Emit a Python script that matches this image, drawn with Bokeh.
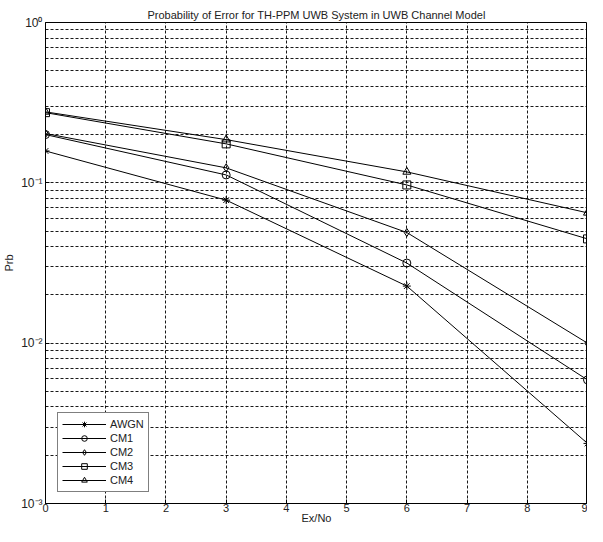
from bokeh.plotting import figure
from bokeh.models import Legend, LegendItem, CustomJSTickFormatter, FixedTicker, Range1d
from bokeh.embed import file_html
from bokeh.resources import INLINE

ex_no = [0, 3, 6, 9]
awgn = [0.158, 0.078, 0.0227, 0.00237]
cm1 = [0.200, 0.112, 0.0316, 0.0059]
cm2 = [0.203, 0.124, 0.049, 0.0100]
cm3 = [0.274, 0.175, 0.097, 0.0447]
cm4 = [0.277, 0.186, 0.117, 0.065]

series = [("AWGN", awgn, "asterisk"), ("CM1", cm1, "circle"), ("CM2", cm2, "diamond"),
          ("CM3", cm3, "square"), ("CM4", cm4, "triangle")]

FONT = "Liberation Sans"

p = figure(width=587, height=526, output_backend="svg", toolbar_location=None,
           y_axis_type="log", x_range=Range1d(0, 9), y_range=Range1d(1e-3, 1),
           title="Probability of Error for TH-PPM UWB System in UWB Channel Model",
           min_border_left=37, min_border_right=0, min_border_top=22, min_border_bottom=18)

p.title.align = "center"
p.title.text_font = FONT
p.title.text_font_size = "11px"
p.title.text_font_style = "normal"
p.title.text_color = "#222222"
p.title.standoff = 4

p.outline_line_color = "black"
p.outline_line_width = 1
p.background_fill_color = "white"
p.border_fill_color = "white"

p.xaxis.ticker = FixedTicker(ticks=list(range(10)))
p.yaxis.ticker = FixedTicker(ticks=[1e-3, 1e-2, 1e-1, 1],
                             minor_ticks=[m * 10.0 ** e for e in (-3, -2, -1) for m in range(2, 10)])
p.yaxis.formatter = CustomJSTickFormatter(code="""
const e = Math.round(Math.log10(tick));
const sup = {'-':'\u207b','0':'\u2070','1':'\u00b9','2':'\u00b2','3':'\u00b3'};
return '10' + String(e).split('').map(c => sup[c]).join('');
""")

for ax in (p.xaxis[0], p.yaxis[0]):
    ax.major_tick_in = 4
    ax.major_tick_out = 0
    ax.minor_tick_in = 0
    ax.minor_tick_out = 0
    ax.axis_line_color = "black"
    ax.major_tick_line_color = "black"
    ax.major_label_text_font = FONT
    ax.major_label_text_font_size = "11px"
    ax.major_label_text_color = "#222222"
    ax.axis_label_text_font = FONT
    ax.axis_label_text_font_size = "11px"
    ax.axis_label_text_font_style = "normal"
    ax.axis_label_text_color = "#222222"

p.yaxis.major_label_text_font_size = "12px"
p.xaxis.axis_label = "Ex/No"
p.yaxis.axis_label = "Prb"
p.xaxis.major_label_standoff = 0
p.xaxis.axis_label_standoff = -3
p.yaxis.major_label_standoff = 3
p.yaxis.axis_label_standoff = 3

for g in (p.xgrid[0], p.ygrid[0]):
    g.grid_line_color = "black"
    g.grid_line_dash = "3 2"
    g.grid_line_width = 1
    g.grid_line_alpha = 0.9
p.ygrid.minor_grid_line_color = "black"
p.ygrid.minor_grid_line_dash = "3 2"
p.ygrid.minor_grid_line_alpha = 0.9

items = []
for name, vals, marker in series:
    ln = p.line(ex_no, vals, line_color="black", line_width=1)
    sc = p.scatter(ex_no, vals, marker=marker, size=8, fill_color=None,
                   line_color="black", line_width=1)
    items.append(LegendItem(label=name, renderers=[ln, sc]))

legend = Legend(items=items, location=(12, 11))
legend.label_text_font = FONT
legend.label_text_font_size = "11px"
legend.label_text_color = "#222222"
legend.border_line_color = "black"
legend.border_line_width = 1
legend.background_fill_alpha = 1
legend.glyph_width = 44
legend.glyph_height = 14
legend.label_height = 14
legend.spacing = 0
legend.padding = 4
legend.margin = 0
legend.label_standoff = 4
p.add_layout(legend)

open("out.html", "w").write(file_html(p, INLINE))
